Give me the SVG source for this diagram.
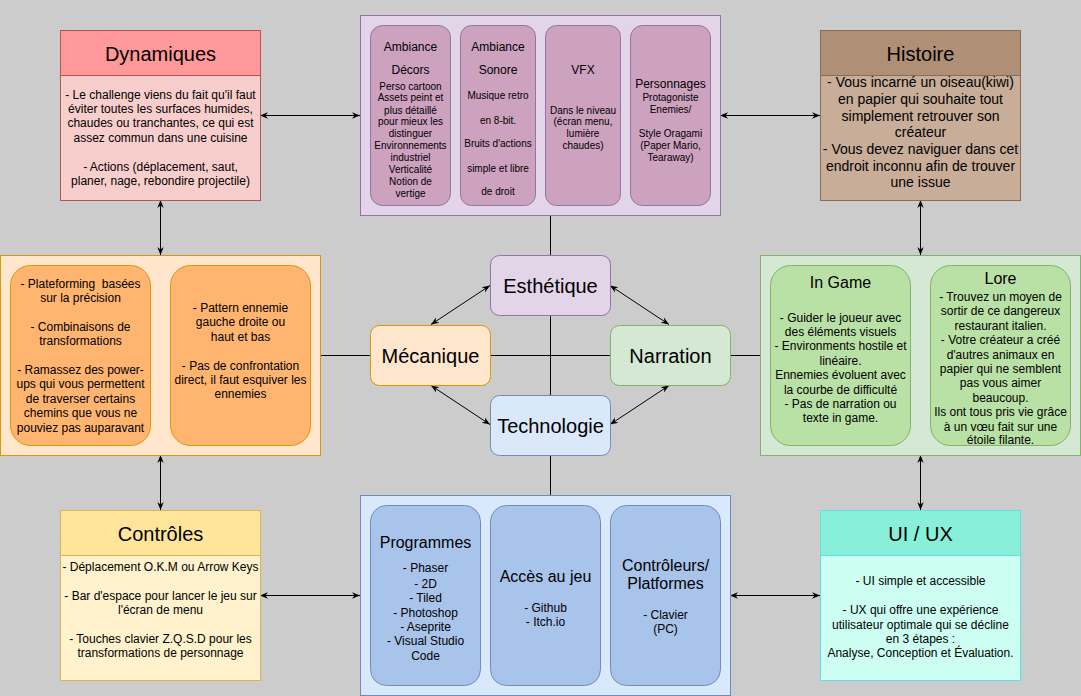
<svg xmlns="http://www.w3.org/2000/svg" width="1081" height="696" viewBox="0 0 1081 696">
<style>
text{font-family:"Liberation Sans",Arial,sans-serif;fill:#000;text-anchor:middle}
.t20{font-size:20px}.t16{font-size:16px}.t14{font-size:14px}.t12{font-size:12px}.t10{font-size:10px}
.pre{white-space:pre}
.ln{stroke:#000;stroke-width:1;fill:none}
.ar{stroke:#000;stroke-width:1;fill:none;marker-start:url(#ah);marker-end:url(#ah)}
.pur{fill:#E1D5E7;stroke:#9673A6}.purI{fill:#CDA2BE;stroke:#9673A6}
.ora{fill:#FFE6CC;stroke:#D79B00}.oraI{fill:#FFB570;stroke:#D79B00}
.grn{fill:#D5E8D4;stroke:#82B366}.grnI{fill:#B9E0A5;stroke:#82B366}
.blu{fill:#DAE8FC;stroke:#6C8EBF}.bluI{fill:#A9C4EB;stroke:#6C8EBF}
</style>
<defs>
<marker id="ah" viewBox="0 0 10 10" refX="10" refY="5" markerWidth="8" markerHeight="8" markerUnits="userSpaceOnUse" orient="auto-start-reverse">
<path d="M0,1 L10,5 L0,9 L3,5 z" fill="#000"/>
</marker>
</defs>
<rect x="0" y="0" width="1081" height="696" fill="#CCCCCC"/>
<g id="connectors">
<line class="ln" x1="550.5" y1="215" x2="550.5" y2="495"/>
<line class="ln" x1="320" y1="355.5" x2="760" y2="355.5"/>
<line class="ar" x1="490" y1="285.5" x2="431" y2="324.5"/>
<line class="ar" x1="610" y1="285.5" x2="669" y2="324.5"/>
<line class="ar" x1="431" y1="385.5" x2="490" y2="424.5"/>
<line class="ar" x1="669" y1="385.5" x2="610" y2="424.5"/>
<line class="ar" x1="260" y1="115.5" x2="360" y2="115.5"/>
<line class="ar" x1="820" y1="115.5" x2="720" y2="115.5"/>
<line class="ar" x1="160.5" y1="200" x2="160.5" y2="255"/>
<line class="ar" x1="920.5" y1="200" x2="920.5" y2="255"/>
<line class="ar" x1="160.5" y1="455" x2="160.5" y2="510"/>
<line class="ar" x1="920.5" y1="455" x2="920.5" y2="510"/>
<line class="ar" x1="260" y1="595.5" x2="360" y2="595.5"/>
<line class="ar" x1="820" y1="595.5" x2="730" y2="595.5"/>
</g>
<g id="dynamiques">
<rect x="60.5" y="30.5" width="200" height="170" fill="#F8CECC" stroke="#B85450"/>
<rect x="60.5" y="30.5" width="200" height="45" fill="#FF9999" stroke="#B85450"/>
<text class="t20" x="160.5" y="61">Dynamiques</text>
<text class="t12" x="160.5" y="98.6">- Le challenge viens du fait qu'il faut</text>
<text class="t12" x="160.5" y="113">éviter toutes les surfaces humides,</text>
<text class="t12" x="160.5" y="127.4">chaudes ou tranchantes, ce qui est</text>
<text class="t12" x="160.5" y="141.8">assez commun dans une cuisine</text>
<text class="t12" x="160.5" y="170.6">- Actions (déplacement, saut,</text>
<text class="t12" x="160.5" y="185">planer, nage, rebondire projectile)</text>
</g>
<g id="histoire">
<rect x="820.5" y="30.5" width="200" height="170" fill="#C8AD98" stroke="#8C6C52"/>
<rect x="820.5" y="30.5" width="200" height="45" fill="#AF8F75" stroke="#8C6C52"/>
<text class="t20" x="920.5" y="61">Histoire</text>
<text class="t14" x="920.5" y="87.3">- Vous incarné un oiseau(kiwi)</text>
<text class="t14" x="920.5" y="104">en papier qui souhaite tout</text>
<text class="t14" x="920.5" y="120.7">simplement retrouver son</text>
<text class="t14" x="920.5" y="137.3">créateur</text>
<text class="t14" x="920.5" y="154">- Vous devez naviguer dans cet</text>
<text class="t14" x="920.5" y="170.7">endroit inconnu afin de trouver</text>
<text class="t14" x="920.5" y="187.3">une issue</text>
</g>
<g id="esthetique-details">
<rect class="pur" x="360.5" y="15.5" width="360" height="200"/>
<rect class="purI" x="370.5" y="25.5" width="80" height="180" rx="12"/>
<rect class="purI" x="460.5" y="25.5" width="75" height="180" rx="11"/>
<rect class="purI" x="545.5" y="25.5" width="75" height="180" rx="11"/>
<rect class="purI" x="630.5" y="25.5" width="80" height="180" rx="12"/>
<text class="t12" x="410.5" y="51">Ambiance</text>
<text class="t12" x="410.5" y="74.3">Décors</text>
<text class="t10" x="410.5" y="89.6">Perso cartoon</text>
<text class="t10" x="410.5" y="101.3">Assets peint et</text>
<text class="t10" x="410.5" y="113.6">plus détaillé</text>
<text class="t10" x="410.5" y="125.3">pour mieux les</text>
<text class="t10" x="410.5" y="137">distinguer</text>
<text class="t10" x="410.5" y="148.6">Environnements</text>
<text class="t10" x="410.5" y="161.3">industriel</text>
<text class="t10" x="410.5" y="173">Verticalité</text>
<text class="t10" x="410.5" y="184.6">Notion de</text>
<text class="t10" x="410.5" y="197">vertige</text>
<text class="t12" x="498" y="51">Ambiance</text>
<text class="t12" x="498" y="74.3">Sonore</text>
<text class="t10" x="498" y="99.3">Musique retro</text>
<text class="t10" x="498" y="123.6">en 8-bit.</text>
<text class="t10" x="498" y="147">Bruits d'actions</text>
<text class="t10" x="498" y="172">simple et libre</text>
<text class="t10" x="498" y="195.3">de droit</text>
<text class="t12" x="583" y="74.3">VFX</text>
<text class="t10" x="583" y="113.6">Dans le niveau</text>
<text class="t10" x="583" y="125.3">(écran menu,</text>
<text class="t10" x="583" y="137">lumière</text>
<text class="t10" x="583" y="149.3">chaudes)</text>
<text class="t12" x="670.5" y="87.6">Personnages</text>
<text class="t10" x="670.5" y="101">Protagoniste</text>
<text class="t10" x="670.5" y="113">Enemies/</text>
<text class="t10" x="670.5" y="137">Style Oragami</text>
<text class="t10" x="670.5" y="149.3">(Paper Mario,</text>
<text class="t10" x="670.5" y="161.3">Tearaway)</text>
</g>
<g id="mecanique-details">
<rect class="ora" x="0.5" y="255.5" width="320" height="200"/>
<rect class="oraI" x="10.5" y="265.5" width="140" height="180" rx="20"/>
<rect class="oraI" x="170.5" y="265.5" width="140" height="180" rx="20"/>
<text class="t12 pre" x="80.5" y="287.6">- Plateforming  basées</text>
<text class="t12" x="80.5" y="302">sur la précision</text>
<text class="t12" x="80.5" y="330.8">- Combinaisons de</text>
<text class="t12" x="80.5" y="345.2">transformations</text>
<text class="t12" x="80.5" y="374">- Ramassez des power-</text>
<text class="t12" x="80.5" y="388.4">ups qui vous permettent</text>
<text class="t12" x="80.5" y="402.8">de traverser certains</text>
<text class="t12" x="80.5" y="417.2">chemins que vous ne</text>
<text class="t12" x="80.5" y="431.6">pouviez pas auparavant</text>
<text class="t12" x="240.5" y="312">- Pattern ennemie</text>
<text class="t12" x="240.5" y="326.4">gauche droite ou</text>
<text class="t12" x="240.5" y="340.8">haut et bas</text>
<text class="t12" x="240.5" y="369.6">- Pas de confrontation</text>
<text class="t12" x="240.5" y="384">direct, il faut esquiver les</text>
<text class="t12" x="240.5" y="398.4">ennemies</text>
</g>
<g id="narration-details">
<rect class="grn" x="760.5" y="255.5" width="320" height="200"/>
<rect class="grnI" x="770.5" y="265.5" width="140" height="180" rx="20"/>
<rect class="grnI" x="930.5" y="265.5" width="140" height="180" rx="20"/>
<text class="t16" x="840.5" y="287.5">In Game</text>
<text class="t12" x="840.5" y="321.6">- Guider le joueur avec</text>
<text class="t12" x="840.5" y="336">des éléments visuels</text>
<text class="t12" x="840.5" y="350.4">- Environments hostile et</text>
<text class="t12" x="840.5" y="364.8">linéaire.</text>
<text class="t12" x="840.5" y="379.2">Ennemies évoluent avec</text>
<text class="t12" x="840.5" y="393.6">la courbe de difficulté</text>
<text class="t12" x="840.5" y="408">- Pas de narration ou</text>
<text class="t12" x="840.5" y="422.4">texte in game.</text>
<text class="t16" x="1000.5" y="283.5">Lore</text>
<text class="t12" x="1000.5" y="301">- Trouvez un moyen de</text>
<text class="t12" x="1000.5" y="315.4">sortir de ce dangereux</text>
<text class="t12" x="1000.5" y="329.8">restaurant italien.</text>
<text class="t12" x="1000.5" y="344.2">- Votre créateur a créé</text>
<text class="t12" x="1000.5" y="358.6">d'autres animaux en</text>
<text class="t12" x="1000.5" y="373">papier qui ne semblent</text>
<text class="t12" x="1000.5" y="387.4">pas vous aimer</text>
<text class="t12" x="1000.5" y="401.8">beaucoup.</text>
<text class="t12" x="1000.5" y="416.2">Ils ont tous pris vie grâce</text>
<text class="t12" x="1000.5" y="430.6">à un vœu fait sur une</text>
<text class="t12" x="1000.5" y="444">étoile filante.</text>
</g>
<g id="controles">
<rect x="60.5" y="510.5" width="200" height="170" fill="#FFF2CC" stroke="#D6B656"/>
<rect x="60.5" y="510.5" width="200" height="45" fill="#FFE599" stroke="#D6B656"/>
<text class="t20" x="160.5" y="541">Contrôles</text>
<text class="t12" x="160.5" y="571">- Déplacement O.K.M ou Arrow Keys</text>
<text class="t12" x="160.5" y="599.8">- Bar d'espace pour lancer le jeu sur</text>
<text class="t12" x="160.5" y="614.2">l'écran de menu</text>
<text class="t12" x="160.5" y="643">- Touches clavier Z.Q.S.D pour les</text>
<text class="t12" x="160.5" y="657.4">transformations de personnage</text>
</g>
<g id="uiux">
<rect x="820.5" y="510.5" width="200" height="170" fill="#CCFFF2" stroke="#5CE1E6"/>
<rect x="820.5" y="510.5" width="200" height="45" fill="#88F0D9" stroke="#5CE1E6"/>
<text class="t20" x="920.5" y="541">UI / UX</text>
<text class="t12" x="920.5" y="585.4">- UI simple et accessible</text>
<text class="t12" x="920.5" y="614.2">- UX qui offre une expérience</text>
<text class="t12" x="920.5" y="628.6">utilisateur optimale qui se décline</text>
<text class="t12" x="920.5" y="643">en 3 étapes :</text>
<text class="t12" x="920.5" y="657.4">Analyse, Conception et Évaluation.</text>
</g>
<g id="technologie-details">
<rect class="blu" x="360.5" y="495.5" width="370" height="200"/>
<rect class="bluI" x="370.5" y="505.5" width="110" height="180" rx="16"/>
<rect class="bluI" x="490.5" y="505.5" width="110" height="180" rx="16"/>
<rect class="bluI" x="610.5" y="505.5" width="110" height="180" rx="16"/>
<text class="t16" x="425.5" y="547.5">Programmes</text>
<text class="t12" x="425.5" y="571.6">- Phaser</text>
<text class="t12" x="425.5" y="588.3">- 2D</text>
<text class="t12" x="425.5" y="602">- Tiled</text>
<text class="t12" x="425.5" y="616.6">- Photoshop</text>
<text class="t12" x="425.5" y="631">- Aseprite</text>
<text class="t12" x="425.5" y="645.3">- Visual Studio</text>
<text class="t12" x="425.5" y="660">Code</text>
<text class="t16" x="545.5" y="581.5">Accès au jeu</text>
<text class="t12" x="545.5" y="612">- Github</text>
<text class="t12" x="545.5" y="626">- Itch.io</text>
<text class="t16" x="665.5" y="570.8">Contrôleurs/</text>
<text class="t16" x="665.5" y="589">Platformes</text>
<text class="t12" x="665.5" y="619.3">- Clavier</text>
<text class="t12" x="665.5" y="632.6">(PC)</text>
</g>
<g id="esthetique">
<rect class="pur" x="490.5" y="255.5" width="120" height="60" rx="9"/>
<text class="t20" x="550.5" y="293">Esthétique</text>
</g>
<g id="mecanique">
<rect class="ora" x="370.5" y="325.5" width="120" height="60" rx="9"/>
<text class="t20" x="430.5" y="363">Mécanique</text>
</g>
<g id="narration">
<rect class="grn" x="610.5" y="325.5" width="120" height="60" rx="9"/>
<text class="t20" x="670.5" y="363">Narration</text>
</g>
<g id="technologie">
<rect class="blu" x="490.5" y="395.5" width="120" height="60" rx="9"/>
<text class="t20" x="550.5" y="433">Technologie</text>
</g>
</svg>
